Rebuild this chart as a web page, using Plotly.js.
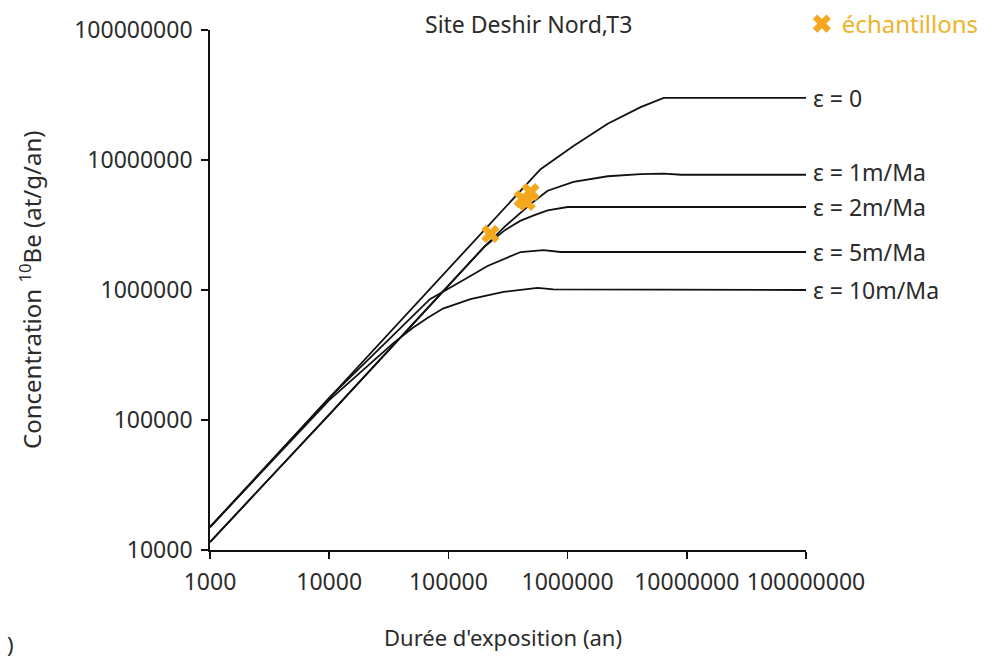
<!DOCTYPE html>
<html>
<head>
<meta charset="utf-8">
<script src="https://cdn.plot.ly/plotly-3.0.1.min.js"></script>
<style>
  html, body { margin: 0; padding: 0; background: #ffffff; }
  #chart { width: 994px; height: 658px; }
</style>
</head>
<body>
<div id="chart"></div>
<script>
// Exposure duration (years) and 10Be concentration (at/g) for each erosion rate
const tEps0 = [1000, 10000, 100000, 593000, 1120000, 2170000, 4100000, 6400000, 100000000];
const nEps0 = [15000, 148000, 1450000, 8500000, 12800000, 19000000, 25500000, 30000000, 30000000];

const tEps1 = [1000, 10000, 100000, 200000, 300000, 400000, 520000, 680000, 1120000, 2170000, 4100000, 6400000, 9000000, 100000000];
const nEps1 = [11500, 110000, 1080000, 2150000, 3100000, 3900000, 4800000, 5800000, 6780000, 7500000, 7800000, 7850000, 7700000, 7700000];

const tEps2 = [1000, 10000, 100000, 200000, 300000, 400000, 520000, 680000, 1000000, 100000000];
const nEps2 = [11500, 110000, 1080000, 2150000, 2900000, 3400000, 3750000, 4100000, 4350000, 4350000];

const tEps5 = [1000, 10000, 70000, 110000, 153000, 213000, 403000, 628000, 873000, 100000000];
const nEps5 = [15000, 148000, 850000, 1070000, 1280000, 1530000, 1960000, 2030000, 1960000, 1960000];

const tEps10 = [1000, 10000, 34500, 50000, 66700, 90000, 153000, 290000, 560000, 760000, 100000000];
const nEps10 = [15000, 142000, 390000, 510000, 610000, 720000, 850000, 966000, 1040000, 1010000, 1000000];

// Measured samples
const tSamples = [225000, 419000, 489000, 453000];
const nSamples = [2700000, 5010000, 5670000, 4750000];

// Curve labels, placed at the right end of each curve
const curveLabels = ["ε = 0", "ε = 1m/Ma", "ε = 2m/Ma", "ε = 5m/Ma", "ε = 10m/Ma"];
const curveLabelValues = [30000000, 8100000, 4350000, 1960000, 1000000];

// Axis ticks
const tickVals = [1000, 10000, 100000, 1000000, 10000000, 100000000];
const yTickVals = [10000, 100000, 1000000, 10000000, 100000000];

const FONT = '"Noto Sans", "Open Sans", sans-serif';
const TXT = '#2b2b2b';

const curveStyle = { color: '#111111', width: 1.8 };

const curves = [
  [tEps0, nEps0], [tEps1, nEps1], [tEps2, nEps2], [tEps5, nEps5], [tEps10, nEps10]
];

const traces = curves.map(function (c, i) {
  return {
    x: c[0], y: c[1], type: 'scatter', mode: 'lines',
    line: curveStyle, name: curveLabels[i], showlegend: false, hoverinfo: 'skip'
  };
});

traces.push({
  x: tSamples, y: nSamples, type: 'scatter', mode: 'markers',
  name: 'échantillons',
  marker: { symbol: 'x', size: 16, color: '#F4A81D', line: { width: 0 } },
  showlegend: true
});

const annotations = curveLabels.map(function (txt, i) {
  return {
    x: 8, y: Math.log10(curveLabelValues[i]), xref: 'x', yref: 'y',
    text: txt, showarrow: false, xanchor: 'left', yanchor: 'middle',
    xshift: 5, font: { family: FONT, size: 23, color: TXT }
  };
});

annotations.push({
  x: 0.5336, y: 1.0115, xref: 'paper', yref: 'paper',
  text: 'Site Deshir Nord,T3', showarrow: false, xanchor: 'center', yanchor: 'middle',
  font: { family: FONT, size: 23, color: TXT }
});
annotations.push({
  x: -0.302, y: 0.5, xref: 'paper', yref: 'paper', textangle: -90,
  text: 'Concentration <sup>10</sup>Be (at/g/an)', showarrow: false,
  xanchor: 'center', yanchor: 'middle',
  font: { family: FONT, size: 24, color: TXT }
});
annotations.push({
  x: 0.4916, y: -0.167, xref: 'paper', yref: 'paper',
  text: "Durée d'exposition (an)", showarrow: false,
  xanchor: 'center', yanchor: 'middle',
  font: { family: FONT, size: 22, color: TXT }
});
annotations.push({
  x: -0.334, y: -0.181, xref: 'paper', yref: 'paper',
  text: ')', showarrow: false, xanchor: 'center', yanchor: 'middle',
  font: { family: FONT, size: 22, color: TXT }
});

const layout = {
  width: 994, height: 658,
  margin: { l: 210, r: 188, t: 30, b: 108, pad: 0, autoexpand: false },
  paper_bgcolor: '#ffffff', plot_bgcolor: '#ffffff',
  font: { family: FONT, color: TXT, size: 22 },
  xaxis: {
    type: 'log', range: [3, 8], tickmode: 'array', tickvals: tickVals,
    ticktext: tickVals.map(String), showgrid: false, zeroline: false,
    showline: true, linecolor: '#111111', linewidth: 1.8,
    ticks: 'outside', ticklen: 7, tickwidth: 1.8, tickcolor: '#111111',
    ticklabelstandoff: 4, automargin: false,
    tickfont: { family: FONT, size: 23, color: TXT }
  },
  yaxis: {
    type: 'log', range: [4, 8], tickmode: 'array', tickvals: yTickVals,
    ticktext: yTickVals.map(String), showgrid: false, zeroline: false,
    showline: true, linecolor: '#111111', linewidth: 1.8,
    ticks: 'outside', ticklen: 7, tickwidth: 1.8, tickcolor: '#111111',
    ticklabelstandoff: 4, automargin: false,
    tickfont: { family: FONT, size: 23, color: TXT }
  },
  legend: {
    x: 0.993, y: 1.0115, xanchor: 'left', yanchor: 'middle',
    bgcolor: 'rgba(0,0,0,0)', borderwidth: 0,
    font: { family: FONT, size: 24, color: '#EDB32B' }
  },
  annotations: annotations,
  showlegend: true
};

Plotly.newPlot('chart', traces, layout, { displayModeBar: false, staticPlot: true });
</script>
</body>
</html>
